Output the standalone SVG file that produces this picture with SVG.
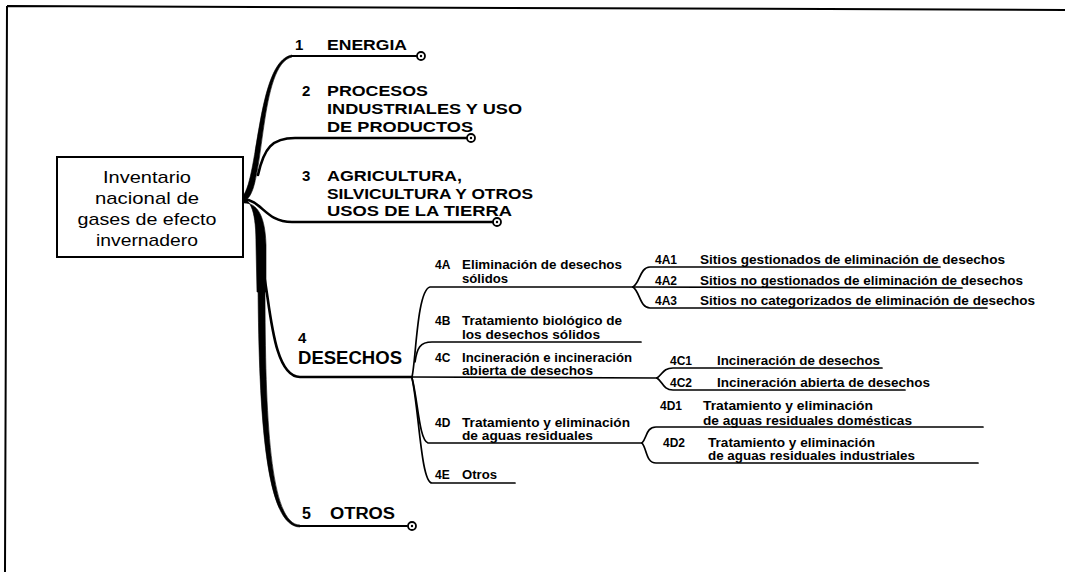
<svg xmlns="http://www.w3.org/2000/svg" width="1065" height="572" viewBox="0 0 1065 572">
<defs>
<style>
.frame{fill:none;stroke:#000;stroke-width:2}
.box{fill:#fff;stroke:#000;stroke-width:2}
.c{fill:none;stroke:#000;stroke-linecap:round;stroke-linejoin:round}
.w3{stroke-width:2.6}
.w2{stroke-width:2}
.w1{stroke-width:1.7}
.tap{fill:#000;stroke:#000;stroke-width:0.6}
.mk{fill:#fff;stroke:#000;stroke-width:1.8}
.dot{fill:#000}
text{font-family:"Liberation Sans",Arial,sans-serif;fill:#000}
.root{font-size:17px}
.l1{font-size:15px;font-weight:bold}
.big{font-size:18px;font-weight:bold}
.l2{font-size:12px;font-weight:bold}
</style>
</defs>
<rect width="1065" height="572" fill="#fff"/>
<path class="frame" d="M7,6 L1065,10 M7,6 L5,572"/>

<g id="connectors">
  <path class="tap" d="M239,197 C252,198 256,214 256,245 L257,292 L266,292 L266,245 C265,210 254,202 242,203 Z"/>
  <path class="tap" d="M241,198 C259,185 256,61 292,55 L292,57 C259,64 265,186 247,199 Z"/>
  <path class="c w2" d="M292,56 L417,56"/>
  <path class="c w3" d="M258,175 C264,148 272,138 295,138 L467,138"/>
  <path class="c w3" d="M243,199 C262,200 265,222 292,222 L493,222"/>
  <path class="c w3" d="M263,270 C270,300 272,377 300,377 L412,377"/>
  <path class="tap" d="M258,285 C259,420 266,527 300,527 L300,525 C270,525 265,420 265,285 Z"/>
  <path class="c w2" d="M300,526 L407,526"/>
  <path class="c w1" d="M412,377 C416,360 417,290 430,287 L633,287"/>
  <path class="c w1" d="M415,362 C417,348 420,342 432,342 L641,342"/>
  <path class="c w1" d="M412,377 L657,378"/>
  <path class="c w1" d="M412,378 C418,400 419,440 428,443 L642,443"/>
  <path class="c w1" d="M412,378 C419,410 421,483 432,483 L515,483"/>
  <path class="c w1" d="M633,287 C640,283 640,267 650,267 L940,267"/>
  <path class="c w1" d="M633,287 L962,288"/>
  <path class="c w1" d="M633,287 C640,292 640,308 650,308 L987,308"/>
  <path class="c w1" d="M657,378 C663,374 663,368 673,368 L882,368"/>
  <path class="c w1" d="M657,378 C663,382 663,390 673,390 L905,390"/>
  <path class="c w1" d="M642,443 C647,438 646,427 656,427 L983,427"/>
  <path class="c w1" d="M642,443 C647,449 646,463 656,463 L978,463"/>
</g>

<g id="root">
  <rect class="box" x="57" y="157" width="186" height="100"/>
  <text class="root" x="147" y="183" text-anchor="middle" textLength="88" lengthAdjust="spacingAndGlyphs">Inventario</text>
  <text class="root" x="147" y="204" text-anchor="middle" textLength="104" lengthAdjust="spacingAndGlyphs">nacional de</text>
  <text class="root" x="147" y="225" text-anchor="middle" textLength="139" lengthAdjust="spacingAndGlyphs">gases de efecto</text>
  <text class="root" x="147" y="246" text-anchor="middle" textLength="102" lengthAdjust="spacingAndGlyphs">invernadero</text>
</g>

<g id="n1">
  <text class="l1" x="295" y="50">1</text>
  <text class="l1" x="327" y="50" textLength="80" lengthAdjust="spacingAndGlyphs">ENERGIA</text>
  <circle class="mk" cx="421" cy="56" r="4"/><circle class="dot" cx="421" cy="56" r="1.2"/>
</g>
<g id="n2">
  <text class="l1" x="302" y="96">2</text>
  <text class="l1" x="327" y="96" textLength="101" lengthAdjust="spacingAndGlyphs">PROCESOS</text>
  <text class="l1" x="327" y="114" textLength="195" lengthAdjust="spacingAndGlyphs">INDUSTRIALES Y USO</text>
  <text class="l1" x="327" y="132" textLength="146" lengthAdjust="spacingAndGlyphs">DE PRODUCTOS</text>
  <circle class="mk" cx="471" cy="138" r="4"/><circle class="dot" cx="471" cy="138" r="1.2"/>
</g>
<g id="n3">
  <text class="l1" x="302" y="181">3</text>
  <text class="l1" x="327" y="181" textLength="135" lengthAdjust="spacingAndGlyphs">AGRICULTURA,</text>
  <text class="l1" x="327" y="199" textLength="206" lengthAdjust="spacingAndGlyphs">SILVICULTURA Y OTROS</text>
  <text class="l1" x="327" y="216" textLength="185" lengthAdjust="spacingAndGlyphs">USOS DE LA TIERRA</text>
  <circle class="mk" cx="497" cy="222" r="4"/><circle class="dot" cx="497" cy="222" r="1.2"/>
</g>
<g id="n4">
  <text class="l1" x="298" y="343">4</text>
  <text class="big" x="298" y="364" textLength="104" lengthAdjust="spacingAndGlyphs">DESECHOS</text>
</g>
<g id="n5">
  <text class="big" x="302" y="519" style="font-size:16px">5</text>
  <text class="big" x="330" y="519" style="font-size:16px" textLength="65" lengthAdjust="spacingAndGlyphs">OTROS</text>
  <circle class="mk" cx="412" cy="526" r="4"/><circle class="dot" cx="412" cy="526" r="1.2"/>
</g>

<g id="n4A">
  <text class="l2" x="435" y="269">4A</text>
  <text class="l2" x="462" y="269" textLength="160" lengthAdjust="spacingAndGlyphs">Eliminación de desechos</text>
  <text class="l2" x="462" y="283" textLength="46" lengthAdjust="spacingAndGlyphs">sólidos</text>
</g>
<g id="n4B">
  <text class="l2" x="435" y="325">4B</text>
  <text class="l2" x="462" y="325" textLength="160" lengthAdjust="spacingAndGlyphs">Tratamiento biológico de</text>
  <text class="l2" x="462" y="339" textLength="138" lengthAdjust="spacingAndGlyphs">los desechos sólidos</text>
</g>
<g id="n4C">
  <text class="l2" x="435" y="362">4C</text>
  <text class="l2" x="462" y="362" textLength="170" lengthAdjust="spacingAndGlyphs">Incineración e incineración</text>
  <text class="l2" x="462" y="375" textLength="131" lengthAdjust="spacingAndGlyphs">abierta de desechos</text>
</g>
<g id="n4D">
  <text class="l2" x="435" y="427">4D</text>
  <text class="l2" x="462" y="427" textLength="168" lengthAdjust="spacingAndGlyphs">Tratamiento y eliminación</text>
  <text class="l2" x="462" y="440" textLength="131" lengthAdjust="spacingAndGlyphs">de aguas residuales</text>
</g>
<g id="n4E">
  <text class="l2" x="435" y="479">4E</text>
  <text class="l2" x="462" y="479" textLength="35" lengthAdjust="spacingAndGlyphs">Otros</text>
</g>

<g id="n4A1">
  <text class="l2" x="655" y="264">4A1</text>
  <text class="l2" x="700" y="264" textLength="305" lengthAdjust="spacingAndGlyphs">Sitios gestionados de eliminación de desechos</text>
</g>
<g id="n4A2">
  <text class="l2" x="655" y="285">4A2</text>
  <text class="l2" x="700" y="285" textLength="323" lengthAdjust="spacingAndGlyphs">Sitios no gestionados de eliminación de desechos</text>
</g>
<g id="n4A3">
  <text class="l2" x="655" y="305">4A3</text>
  <text class="l2" x="700" y="305" textLength="335" lengthAdjust="spacingAndGlyphs">Sitios no categorizados de eliminación de desechos</text>
</g>
<g id="n4C1">
  <text class="l2" x="670" y="365">4C1</text>
  <text class="l2" x="717" y="365" textLength="163" lengthAdjust="spacingAndGlyphs">Incineración de desechos</text>
</g>
<g id="n4C2">
  <text class="l2" x="670" y="387">4C2</text>
  <text class="l2" x="717" y="387" textLength="213" lengthAdjust="spacingAndGlyphs">Incineración abierta de desechos</text>
</g>
<g id="n4D1">
  <text class="l2" x="660" y="410">4D1</text>
  <text class="l2" x="703" y="410" textLength="170" lengthAdjust="spacingAndGlyphs">Tratamiento y eliminación</text>
  <text class="l2" x="703" y="425" textLength="209" lengthAdjust="spacingAndGlyphs">de aguas residuales domésticas</text>
</g>
<g id="n4D2">
  <text class="l2" x="663" y="447">4D2</text>
  <text class="l2" x="708" y="447" textLength="167" lengthAdjust="spacingAndGlyphs">Tratamiento y eliminación</text>
  <text class="l2" x="708" y="460" textLength="207" lengthAdjust="spacingAndGlyphs">de aguas residuales industriales</text>
</g>
</svg>
